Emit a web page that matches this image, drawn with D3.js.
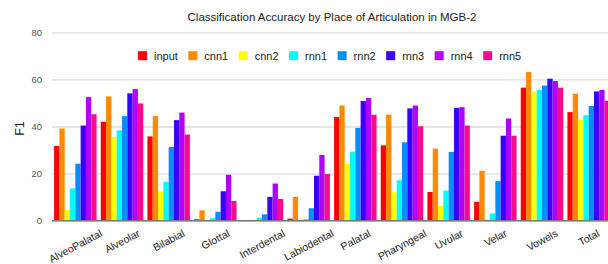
<!DOCTYPE html>
<html>
<head>
<meta charset="utf-8">
<script src="https://cdn.jsdelivr.net/npm/d3@7"></script>
<style>
  body { margin: 0; background: #fff; }
  svg { display: block; font-family: "Liberation Sans", Arial, sans-serif; }
</style>
</head>
<body>
<svg id="chart" width="608" height="264"></svg>
<script>
// categories and series
var places = ["AlveoPalatal", "Alveolar", "Bilabial", "Glottal", "Interdental", "Labiodental",
              "Palatal", "Pharyngeal", "Uvular", "Velar", "Vowels", "Total"];
var models = ["input", "cnn1", "cnn2", "rnn1", "rnn2", "rnn3", "rnn4", "rnn5"];
var modelColors = ["#ff0000", "#ff8a00", "#ffff00", "#00ffff", "#0a8cff", "#3a00ff", "#b000ff", "#ff0a8a"];

var input = [31.7, 42.0, 35.8, 0.6, 0, 0.9, 44.0, 32.0, 12.2, 8.0, 56.5, 46.1];
var cnn1  = [39.1, 52.8, 44.4, 4.4, 0, 10.1, 48.9, 45.0, 30.6, 21.2, 63.1, 53.9];
var cnn2  = [4.6, 35.6, 12.4, 0, 0, 0, 24.2, 12.1, 6.3, 0.7, 54.8, 42.8];
var rnn1  = [13.7, 38.4, 16.4, 1.1, 1.3, 0.7, 29.3, 17.2, 12.8, 3.1, 55.6, 44.8];
var rnn2  = [24.2, 44.4, 31.3, 3.8, 2.7, 5.3, 39.4, 33.3, 29.2, 16.8, 57.4, 48.7];
var rnn3  = [40.4, 54.1, 42.7, 12.5, 10.1, 19.1, 50.8, 47.7, 47.9, 36.1, 60.3, 54.9];
var rnn4  = [52.5, 55.9, 45.9, 19.5, 15.8, 27.9, 52.1, 48.9, 48.2, 43.4, 59.3, 55.5];
var rnn5  = [45.2, 49.8, 36.6, 8.4, 9.2, 19.8, 45.0, 40.1, 40.4, 36.1, 56.5, 50.9];
var seriesValues = [input, cnn1, cnn2, rnn1, rnn2, rnn3, rnn4, rnn5];
var yTicks = [0, 20, 40, 60, 80];

var titleText = "Classification Accuracy by Place of Articulation in MGB-2";
var yLabel = "F1";

var plot = {left: 52, right: 612, top: 32.3, bottom: 220.7};

var svg = d3.select("#chart");

var x = d3.scaleBand()
  .domain(places)
  .range([plot.left, plot.right])
  .paddingInner(0.09)
  .paddingOuter(0.045);

var xInner = d3.scaleBand()
  .domain(models)
  .range([0, x.bandwidth()]);

var y = d3.scaleLinear()
  .domain([0, 80])
  .range([plot.bottom, plot.top]);

var color = d3.scaleOrdinal().domain(models).range(modelColors);

// gridlines + tick labels
var yAxis = d3.axisLeft(y)
  .tickValues(yTicks)
  .tickSize(-(608 - plot.left))
  .tickPadding(10);

var gy = svg.append("g")
  .attr("transform", "translate(" + plot.left + ",0)")
  .call(yAxis);
gy.select(".domain").remove();
gy.selectAll(".tick line").attr("stroke", "#dcdcdc").attr("stroke-width", 1.3);
gy.selectAll(".tick text")
  .attr("fill", "#555")
  .style("font-size", "9.5px")
  .style("font-family", "'Liberation Sans', Arial, sans-serif");

// bars
var rows = places.map(function(p, i) {
  return {place: p, vals: models.map(function(m, j) { return {model: m, value: seriesValues[j][i]}; })};
});

var groups = svg.append("g").selectAll("g")
  .data(rows)
  .join("g")
  .attr("transform", function(d) { return "translate(" + x(d.place) + ",0)"; });

groups.selectAll("rect")
  .data(function(d) { return d.vals; })
  .join("rect")
  .attr("x", function(d) { return xInner(d.model); })
  .attr("width", xInner.bandwidth())
  .attr("y", function(d) { return y(d.value); })
  .attr("height", function(d) { return y(0) - y(d.value); })
  .attr("fill", function(d) { return color(d.model); });

// baseline
svg.append("line")
  .attr("x1", plot.left).attr("x2", 608)
  .attr("y1", y(0)).attr("y2", y(0))
  .attr("stroke", "#7a7a7a").attr("stroke-width", 1.5);

// slanted category labels, top of each label at a fixed line
var labelTop = 228.5, angle = 28;
var sinA = Math.sin(angle * Math.PI / 180), cosA = Math.cos(angle * Math.PI / 180);
var xl = svg.append("g").selectAll("text")
  .data(places)
  .join("text")
  .text(function(d) { return d; })
  .attr("text-anchor", "middle")
  .attr("dominant-baseline", "central")
  .style("font-size", "10.5px")
  .attr("fill", "#222");
xl.each(function(d) {
  var w = this.getComputedTextLength();
  var h = 8;
  var cx = x(d) + x.bandwidth() / 2;
  var cy = labelTop + (w * sinA + h * cosA) / 2;
  d3.select(this).attr("transform", "translate(" + cx + "," + cy + ") rotate(" + (-angle) + ")");
});

// title
svg.append("text")
  .attr("x", (plot.left + plot.right) / 2)
  .attr("y", 17)
  .attr("text-anchor", "middle")
  .attr("dominant-baseline", "central")
  .style("font-size", "11.5px")
  .attr("fill", "#222")
  .text(titleText);

// y axis label
svg.append("text")
  .attr("transform", "translate(20," + ((plot.top + plot.bottom) / 2 + 2) + ") rotate(-90)")
  .attr("text-anchor", "middle")
  .attr("dominant-baseline", "central")
  .style("font-size", "12.5px")
  .attr("fill", "#222")
  .text(yLabel);

// legend
var legend = svg.append("g").attr("transform", "translate(138,55.7)");
var lx = 0;
models.forEach(function(m) {
  var item = legend.append("g").attr("transform", "translate(" + lx + ",0)");
  item.append("rect")
    .attr("x", 0).attr("y", -4.5)
    .attr("width", 9).attr("height", 9)
    .attr("fill", color(m));
  var t = item.append("text")
    .attr("x", 16)
    .attr("dominant-baseline", "central")
    .style("font-size", "11px")
    .attr("fill", "#222")
    .text(m);
  lx += 16 + t.node().getComputedTextLength() + 10.5;
});
</script>
</body>
</html>
